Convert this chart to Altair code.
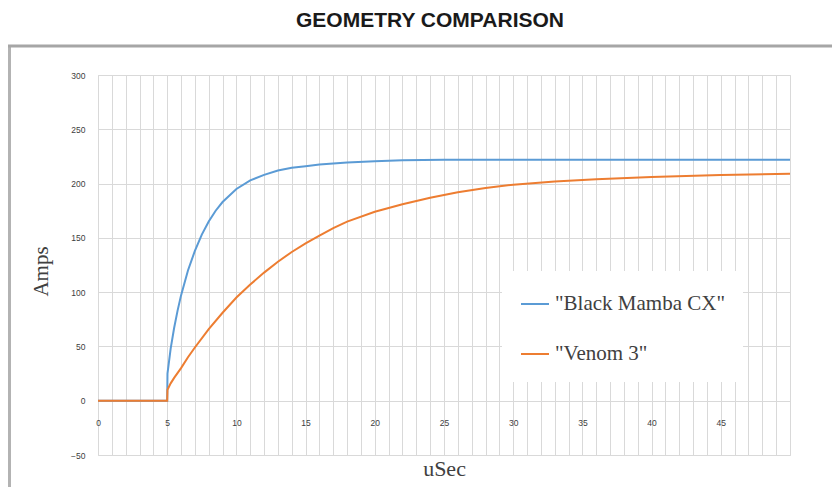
import altair as alt
import pandas as pd

# ---- data ----
series_names = ['"Black Mamba CX"', '"Venom 3"']
series_colors = ["#5B9BD5", "#ED7D31"]

t_mamba = [0, 1, 2, 3, 4, 5, 5.02, 5.25, 5.5, 5.75, 6, 6.5, 7, 7.5, 8, 8.5, 9,
           10, 11, 12, 13, 14, 15, 16, 17, 18, 20, 22, 25, 30, 35, 40, 45, 50]
amps_mamba = [0, 0, 0, 0, 0, 0, 25, 48, 67, 83, 97, 120, 138, 153, 165, 175, 183,
              195, 203, 208, 212, 214.5, 216, 217.5, 218.5, 219.5, 220.5, 221.5,
              222, 222, 222, 222, 222, 222]

t_venom = [0, 1, 2, 3, 4, 5, 5.02, 5.25, 5.5, 6, 6.5, 7, 8, 9, 10, 11, 12, 13,
           14, 15, 16, 17, 18, 20, 22, 24, 26, 28, 30, 33, 36, 40, 45, 50]
amps_venom = [0, 0, 0, 0, 0, 0, 10, 16, 21, 30, 40, 49, 66, 81, 95, 107, 118, 128,
              137, 145, 152, 159, 165, 174, 181, 187, 192, 196, 199, 202, 204, 206,
              208, 209]

x_ticks = list(range(0, 51))
y_ticks = [-50, 0, 50, 100, 150, 200, 250, 300]

df = pd.concat([
    pd.DataFrame({"t": t_mamba, "amps": amps_mamba, "series": series_names[0], "k": 0}),
    pd.DataFrame({"t": t_venom, "amps": amps_venom, "series": series_names[1], "k": 1}),
])

W, H = 692, 380

lines = alt.Chart(df).mark_line(strokeWidth=2).encode(
    x=alt.X("t:Q",
            scale=alt.Scale(domain=[0, 50], nice=False, zero=False),
            axis=alt.Axis(values=x_ticks, grid=True, gridColor="#d9d9d9", gridWidth=1,
                          domain=False, ticks=False, labelOverlap=False, labelFlush=False,
                          labelExpr="datum.value % 5 == 0 && datum.value < 50 ? datum.label : ''",
                          labelFont="Liberation Sans", labelFontSize=8.5, labelColor="#404040",
                          offset=-55, labelPadding=18,
                          title="uSec", titleFont="Liberation Serif", titleFontSize=22,
                          titleFontWeight="normal", titleColor="#404040",
                          titleX=346, titleY=68, titleBaseline="middle", titleAlign="center")),
    y=alt.Y("amps:Q",
            scale=alt.Scale(domain=[-50, 300], nice=False, zero=False),
            axis=alt.Axis(values=y_ticks, grid=True, gridColor="#d9d9d9", gridWidth=1,
                          domain=False, ticks=False, labelOverlap=False,
                          labelFont="Liberation Sans", labelFontSize=8.5, labelColor="#404040",
                          labelPadding=13,
                          title="Amps", titleFont="Liberation Serif", titleFontSize=21,
                          titleFontWeight="normal", titleColor="#404040",
                          titleX=-57, titleY=196, titleAngle=270,
                          titleBaseline="middle", titleAlign="center")),
    color=alt.Color("series:N",
                    scale=alt.Scale(domain=series_names, range=series_colors),
                    title=None,
                    legend=alt.Legend(orient="none", legendX=404, legendY=196,
                                      fillColor="white", padding=18,
                                      symbolType="stroke", symbolSize=784,
                                      symbolStrokeWidth=2, labelOffset=5,
                                      labelFont="Liberation Serif", labelFontSize=21,
                                      labelColor="#404040", rowPadding=25,
                                      labelLimit=400)),
    order=alt.Order("k:Q"),
)

frame_df = pd.DataFrame({"a": [0]})
frame_left = alt.Chart(frame_df).mark_rule(color="#b3b3b3", strokeWidth=3).encode(
    x=alt.value(-88.5), y=alt.value(-29), y2=alt.value(H + 40))
frame_top = alt.Chart(frame_df).mark_rule(color="#a6a6a6", strokeWidth=3).encode(
    x=alt.value(-90), x2=alt.value(W + 42), y=alt.value(-29))

chart = alt.layer(frame_left, frame_top, lines).properties(
    width=W, height=H,
    padding={"left": 90, "top": 67, "right": 42, "bottom": 32},
    autosize="none",
    title=alt.TitleParams("GEOMETRY COMPARISON", font="Liberation Sans", fontSize=21,
                          fontWeight="bold", color="#1a1a1a", anchor="middle",
                          dx=-14, dy=3, offset=0, baseline="alphabetic"),
).configure_view(stroke=None).configure(background="white")

chart.save("out.html", embed_options={"renderer": "svg", "actions": False})
